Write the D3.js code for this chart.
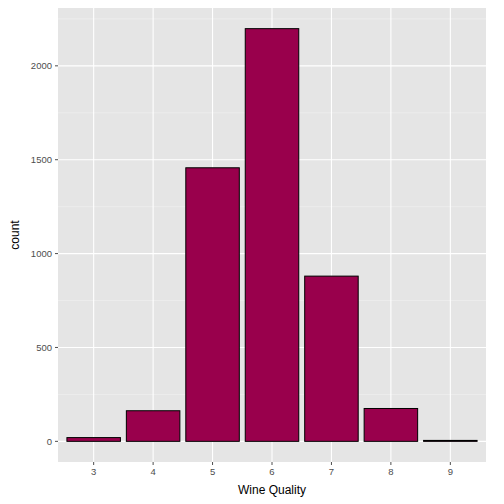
<!DOCTYPE html>
<html><head><meta charset="utf-8">
<script src="https://cdn.jsdelivr.net/npm/d3@7"></script>
<style>body{margin:0;background:#fff}</style></head>
<body><svg id="c" width="504" height="504"></svg>
<script>
const qualities = [3,4,5,6,7,8,9];
const counts = [20,163,1457,2198,880,175,5];
const yTicks = [0,500,1000,1500,2000];
const yMinor = [250,750,1250,1750,2250];

const svg = d3.select("#c");
const L=58,R=486,T=8,B=462;
const x = d3.scaleLinear().domain([2.4,9.6]).range([L,R]);
const y = d3.scaleLinear().domain([-110,2308]).range([B,T]);
svg.append("rect").attr("x",L).attr("y",T).attr("width",R-L).attr("height",B-T).attr("fill","#e5e5e5");
svg.selectAll(".mn").data(yMinor).enter().append("line")
 .attr("x1",L).attr("x2",R).attr("y1",d=>y(d)).attr("y2",d=>y(d)).attr("stroke","#f2f2f2").attr("stroke-width",0.6);
svg.selectAll(".mj").data(yTicks).enter().append("line")
 .attr("x1",L).attr("x2",R).attr("y1",d=>y(d)).attr("y2",d=>y(d)).attr("stroke","#fff").attr("stroke-width",1.1);
svg.selectAll(".vx").data(qualities).enter().append("line")
 .attr("y1",T).attr("y2",B).attr("x1",d=>x(d)).attr("x2",d=>x(d)).attr("stroke","#fff").attr("stroke-width",1.1);
svg.selectAll(".bar").data(qualities).enter().append("rect")
 .attr("x",d=>x(d-0.45)).attr("width",x(0.9)-x(0))
 .attr("y",(d,i)=>y(counts[i])).attr("height",(d,i)=>y(0)-y(counts[i]))
 .attr("fill","#99004c").attr("stroke","#000").attr("stroke-width",1);
const g=svg.append("g").attr("font-family","Liberation Sans, Arial, sans-serif");
g.selectAll(".yl").data(yTicks).enter().append("text").attr("x",L-6).attr("y",d=>y(d)+3.5)
 .attr("text-anchor","end").attr("font-size",9.5).attr("fill","#4d4d4d").text(d=>d);
g.selectAll(".ytk").data(yTicks).enter().append("line").attr("x1",L-3).attr("x2",L).attr("y1",d=>y(d)).attr("y2",d=>y(d)).attr("stroke","#4d4d4d");
g.selectAll(".xl").data(qualities).enter().append("text").attr("x",d=>x(d)).attr("y",B+13)
 .attr("text-anchor","middle").attr("font-size",9.5).attr("fill","#4d4d4d").text(d=>d);
g.selectAll(".xtk").data(qualities).enter().append("line").attr("y1",B).attr("y2",B+3).attr("x1",d=>x(d)).attr("x2",d=>x(d)).attr("stroke","#4d4d4d");
g.append("text").attr("x",(L+R)/2).attr("y",494).attr("text-anchor","middle").attr("font-size",12).text("Wine Quality");
g.append("text").attr("transform",`translate(19,${(T+B)/2}) rotate(-90)`).attr("text-anchor","middle").attr("font-size",12).text("count");
</script></body></html>
